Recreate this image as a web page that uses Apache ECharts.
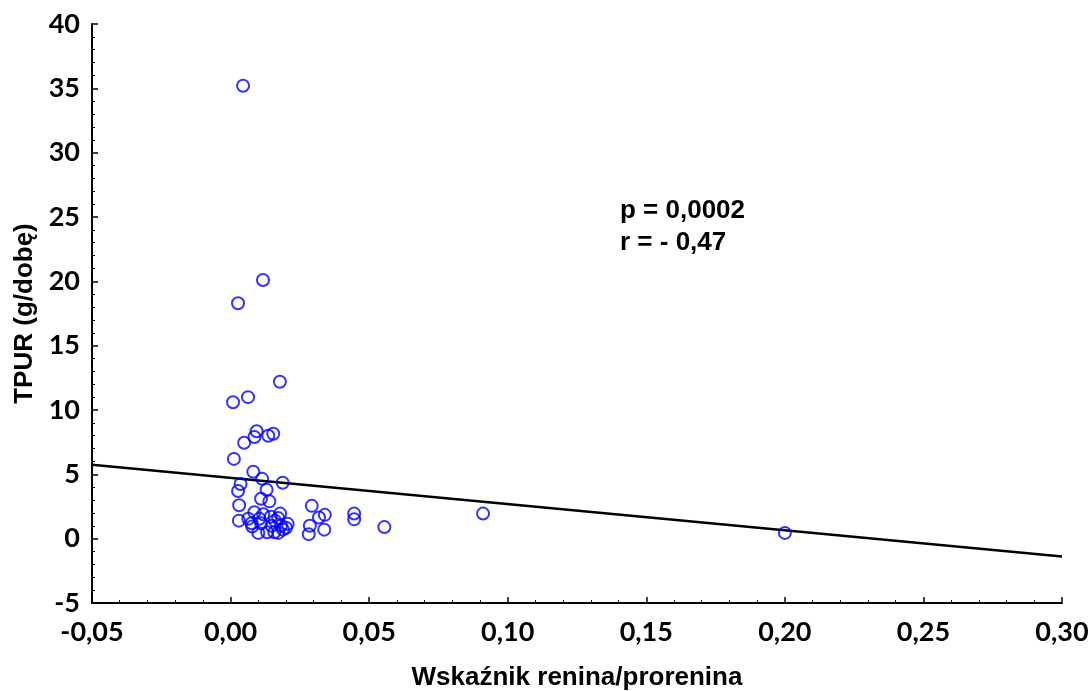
<!DOCTYPE html>
<html>
<head>
<meta charset="utf-8">
<script src="https://cdn.jsdelivr.net/npm/echarts@6/dist/echarts.min.js"></script>
<style>html,body{margin:0;padding:0;background:#fff}#c{width:1089px;height:691px}</style>
</head>
<body>
<div id="c"></div>
<script>
// Wskaźnik renina/prorenina (x) and TPUR g/dobę (y)
const ratioX = [0.0045,0.0117,0.0027,0.0178,0.0009,0.0063,0.0094,0.0086,0.0136,0.0154,
  0.0049,0.0012,0.0082,0.0114,0.0188,0.0036,0.0027,0.0130,0.0110,0.0140,
  0.0031,0.0293,0.0086,0.0118,0.0179,0.0340,0.0446,0.0446,0.0030,0.0064,
  0.0076,0.0104,0.0145,0.0172,0.0319,0.0078,0.0110,0.0148,0.0182,0.0206,
  0.0200,0.0286,0.0338,0.0555,0.0100,0.0132,0.0158,0.0172,0.0282,0.0911,
  0.2000,0.0160,0.0189];
const tpurY = [35.2,20.1,18.3,12.2,10.6,11.0,8.35,7.9,8.0,8.15,
  7.45,6.2,5.2,4.65,4.35,4.25,3.7,3.8,3.1,2.9,
  2.6,2.55,2.05,1.9,1.95,1.85,1.95,1.5,1.4,1.55,
  1.2,1.55,1.7,1.6,1.65,0.95,1.2,1.0,1.0,1.15,
  0.85,1.0,0.7,0.9,0.45,0.5,0.5,0.45,0.35,1.95,
  0.45,1.4,0.7];
const xTicks = {min:-0.05, max:0.30, interval:0.05};
const yTicks = {min:-5, max:40, interval:5};
const regIntercept = 4.73;
const regSlope = -20.4;
const statLines = ['p = 0,0002', 'r = - 0,47'];
const xTitle = 'Wskaźnik renina/prorenina';
const yTitle = 'TPUR (g/dobę)';

const pts = ratioX.map((x,i)=>[x,tpurY[i]]);
const regLine = [xTicks.min, xTicks.max].map(x=>[x, regIntercept + regSlope*x]);
const tickFont = {fontFamily:'Lato', fontWeight:'bold', fontSize:27, color:'#000'};
const axisCommon = {
  axisLine:{show:true, onZero:false, lineStyle:{color:'#000', width:2}},
  axisTick:{show:true, inside:true, length:6, lineStyle:{color:'#000', width:1.5}},
  minorTick:{show:true, splitNumber:5, length:3, lineStyle:{color:'#000', width:1}},
  splitLine:{show:false},
  nameLocation:'middle',
  nameTextStyle:{fontFamily:'Liberation Sans', fontWeight:'bold', fontSize:26, color:'#000'}
};
const chart = echarts.init(document.getElementById('c'));
chart.setOption({
  animation:false,
  backgroundColor:'#fff',
  grid:{left:92, right:27, top:24, bottom:88, outerBoundsMode:'none', containLabel:false},
  xAxis:Object.assign({type:'value', min:xTicks.min, max:xTicks.max, interval:xTicks.interval,
    name:xTitle, nameGap:62,
    axisLabel:Object.assign({margin:16, formatter:v=>v.toFixed(2).replace('.',',')}, tickFont)}, axisCommon),
  yAxis:Object.assign({type:'value', min:yTicks.min, max:yTicks.max, interval:yTicks.interval,
    name:yTitle, nameGap:50,
    axisLabel:Object.assign({margin:12, formatter:v=>String(v)}, tickFont)}, axisCommon),
  graphic:[{type:'text', left:620, top:195, style:{text:statLines.join('\n'), fill:'#000',
    font:'bold 26px "Liberation Sans"', lineHeight:32}}],
  series:[
    {type:'line', data:regLine, symbol:'none', lineStyle:{color:'#000', width:2.5}, silent:true, z:1},
    {type:'scatter', data:pts, symbol:'circle', symbolSize:12,
     itemStyle:{color:'rgba(0,0,0,0)', borderColor:'#0000ff', borderWidth:2}, z:2}
  ]
});
</script>
</body>
</html>
